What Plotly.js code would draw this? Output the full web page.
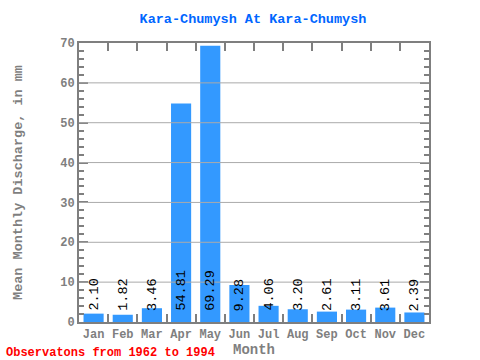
<!DOCTYPE html>
<html><head><meta charset="utf-8">
<script src="https://cdn.plot.ly/plotly-3.0.1.min.js"></script>
<style>html,body{margin:0;padding:0;background:#fff}</style>
</head><body><div id="chart" style="width:480px;height:360px"></div>
<script>
var months = ["Jan","Feb","Mar","Apr","May","Jun","Jul","Aug","Sep","Oct","Nov","Dec"];
var discharge = [2.10, 1.82, 3.46, 54.81, 69.29, 9.28, 4.06, 3.20, 2.61, 3.11, 3.61, 2.39];
var labels = ["2.10","1.82","3.46","54.81","69.29","9.28","4.06","3.20","2.61","3.11","3.61","2.39"];
var gridVals = [10,20,30,40,50,60];

var mono = "Liberation Mono, DejaVu Sans Mono, monospace";
var gray = "#7f7f7f";

var annotations = months.map(function(m,i){
  return {x:m, y:0, xref:'x', yref:'y', text:labels[i], showarrow:false,
    textangle:-90, yanchor:'bottom', xanchor:'center', yshift:9,
    font:{family:mono, size:13.5, color:'#000'}};
});
annotations.push({x:0, y:0, xref:'paper', yref:'paper', xanchor:'left', yanchor:'bottom',
  xshift:-75, yshift:-40, text:"<b>Observatons from 1962 to 1994</b>", showarrow:false,
  font:{family:mono, size:12, color:'#ff0000'}});

var shapes = gridVals.map(function(v){
  return {type:'line', xref:'paper', yref:'y', x0:0, x1:1, y0:v, y1:v, layer:'above',
    line:{color:'#aaaaaa', width:1}};
});

var trace = {type:'bar', x:months, y:discharge, marker:{color:'#3399ff'}, width:0.69, hoverinfo:'none'};

var layout = {
  width:480, height:360, margin:{l:79, r:51, t:43, b:38},
  paper_bgcolor:'#fff', plot_bgcolor:'#fff', showlegend:false,
  title:{text:"<b>Kara-Chumysh At Kara-Chumysh</b>", x:0.527, xanchor:'center', y:0.95, yanchor:'middle',
    font:{family:mono, size:13.5, color:'#0066ff'}},
  xaxis:{type:'category', tickson:'boundaries', ticks:'inside', ticklen:8, tickwidth:2, tickcolor:gray,
    tickangle:0, showline:true, linecolor:gray, linewidth:2, mirror:'ticks', showgrid:false,
    tickfont:{family:mono, size:12, color:gray, weight:'bold'},
    title:{text:"<b>Month</b>", standoff:3, font:{family:mono, size:14, color:gray}}},
  yaxis:{range:[0,70], dtick:10, tick0:0, ticks:'inside', ticklen:9, tickwidth:2, tickcolor:gray,
    showline:true, linecolor:gray, linewidth:2, mirror:'ticks', showgrid:false, zeroline:false,
    minor:{dtick:2, ticks:'inside', ticklen:5, tickwidth:2, tickcolor:gray, showgrid:false},
    tickfont:{family:mono, size:12, color:gray, weight:'bold'},
    title:{text:"<b>Mean Monthly Discharge, in mm</b>", standoff:34, font:{family:mono, size:13.5, color:gray}}},
  annotations:annotations, shapes:shapes, bargap:0.31
};
Plotly.newPlot('chart',[trace],layout,{displayModeBar:false, staticPlot:true});
</script></body></html>
